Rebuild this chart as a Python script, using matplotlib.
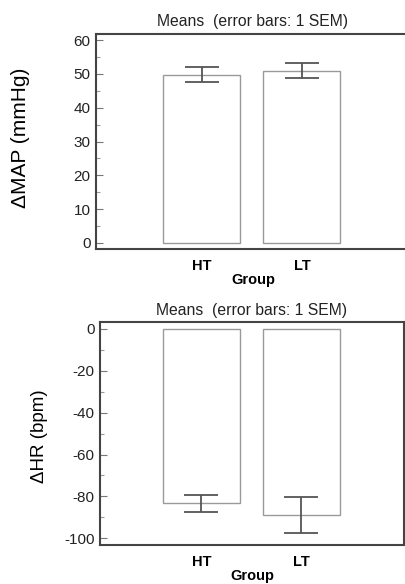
import matplotlib
matplotlib.use('Agg')
import matplotlib.pyplot as plt
from matplotlib.ticker import MultipleLocator

plt.rcParams['font.family'] = ['Liberation Sans', 'DejaVu Sans']
plt.rcParams['axes.unicode_minus'] = False

# Данные: средние и SEM по группам
groups = ['HT', 'LT']
map_means = [49.8, 51.0]
map_sem = [2.2, 2.2]
hr_means = [-83.3, -88.8]
hr_sem = [4.1, 8.5]

W, H = 406, 584
fig = plt.figure(figsize=(W / 100, H / 100), dpi=100)


def px_axes(left, top, right, bottom):
    """Оси по пиксельным координатам картинки."""
    return fig.add_axes([left / W, 1 - bottom / H, (right - left) / W, (bottom - top) / H])


def draw_panel(ax, means, sem, xlim, ylim, major, minor, title_pad):
    x = [1, 2]
    ax.bar(x, means, width=0.77, color='white', edgecolor='#9a9a9a', linewidth=1.0, zorder=2)
    ax.errorbar(x, means, yerr=sem, fmt='none', ecolor='#555555', elinewidth=1.3,
                capsize=12, capthick=1.3, zorder=3)
    ax.set_xlim(*xlim)
    ax.set_ylim(*ylim)
    ax.set_xticks(x)
    ax.set_xticklabels(groups, fontweight='bold', fontsize=10.5)
    ax.tick_params(axis='x', length=0, pad=7)
    ax.yaxis.set_major_locator(MultipleLocator(major))
    ax.yaxis.set_minor_locator(MultipleLocator(minor))
    ax.tick_params(axis='y', which='major', direction='in', length=5, width=0.8,
                   color='#777777', labelsize=11, pad=4, labelcolor='#222222')
    ax.tick_params(axis='y', which='minor', direction='in', length=3, width=0.8, color='#999999')
    ax.set_xlabel('Group', fontweight='bold', fontsize=10.5, labelpad=0)
    ax.set_title('Means  (error bars: 1 SEM)', fontsize=11.3, pad=title_pad, color='#222222')
    for s in ax.spines.values():
        s.set_color('#444444')
        s.set_linewidth(1.5)


ax1 = px_axes(96, 34, 410, 249)
draw_panel(ax1, map_means, map_sem, (-0.06, 3.08), (-1.8, 61.8), 10, 5, 6)
fig.text(21 / W, 1 - 138 / H, 'ΔMAP (mmHg)', rotation=90, ha='center', va='center', fontsize=15)

ax2 = px_axes(100, 322, 404, 545)
draw_panel(ax2, hr_means, hr_sem, (-0.015, 3.025), (-103.2, 3.3), 20, 10, 5)
fig.text(40 / W, 1 - 436 / H, 'ΔHR (bpm)', rotation=90, ha='center', va='center', fontsize=13.5)

fig.savefig('out.png', dpi=100)
